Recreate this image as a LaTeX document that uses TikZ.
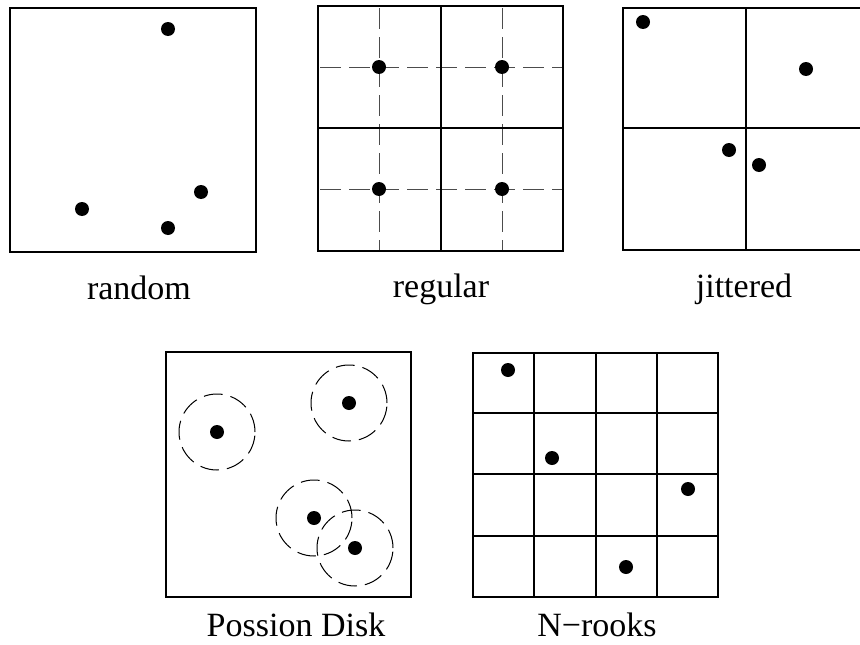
\documentclass[tikz,border=0pt]{standalone}
\usepackage{fontspec}
\setmainfont{Liberation Serif}
\begin{document}
\begin{tikzpicture}[x=1pt,y=-1pt,
  frame/.style={line width=1.8pt},
  cell/.style={line width=1.3pt},
  guide/.style={line width=1pt, black!70, dash pattern=on 21pt off 8pt},
  reach/.style={line width=1pt, dash pattern=on 19pt off 8pt},
  sample/.style={fill=black},
  caption/.style={font=\fontsize{34}{40}\selectfont, inner sep=0pt, anchor=base}]
\useasboundingbox (0,0) rectangle (860,645);
\clip (0,0) rectangle (860,645);

% --- random ---
\draw[frame] (10,8) rectangle (256,252);
\foreach \p in {(168,29),(82,209),(201,192),(168,228)}
  \fill[sample] \p circle (7pt);
\node[caption] (lrandom) at (139,299) {random};

% --- regular ---
\foreach \x in {379,502}
  \draw[guide] (\x,8) -- (\x,250);
\foreach \y in {67,189}
  \draw[guide] (320,\y) -- (562,\y);
\draw[cell] (441,6) -- (441,251) (318,128) -- (563,128);
\draw[frame] (318,6) rectangle (563,251);
\foreach \p in {(379,67),(502,67),(379,189),(502,189)}
  \fill[sample] \p circle (7pt);
\node[caption] (lregular) at (441,297) {regular};

% --- jittered ---
\draw[cell] (746,8) -- (746,250) (623,128) -- (869,128);
\draw[frame] (623,8) rectangle (869,250);
\foreach \p in {(643,22),(806,69),(729,150),(759,165)}
  \fill[sample] \p circle (7pt);
\node[caption] (ljittered) at (744,297) {jittered};

% --- Poisson disk ---
\draw[frame] (166,352) rectangle (411,597);
\foreach \p in {(217,432),(349,403),(314,518),(355,548)}{
  \draw[reach] \p circle (38pt);
  \fill[sample] \p circle (7pt);
}
\node[caption] (lpoisson) at (296,636) {Possion Disk};

% --- N-rooks ---
\foreach \x in {534,596,657}
  \draw[cell] (\x,353) -- (\x,597);
\foreach \y in {413,474,536}
  \draw[cell] (473,\y) -- (718,\y);
\draw[frame] (473,353) rectangle (718,597);
\foreach \p in {(508,370),(552,458),(688,489),(626,567)}
  \fill[sample] \p circle (7pt);
\node[caption] (lrooks) at (597,636) {N−rooks};
\end{tikzpicture}
\end{document}
